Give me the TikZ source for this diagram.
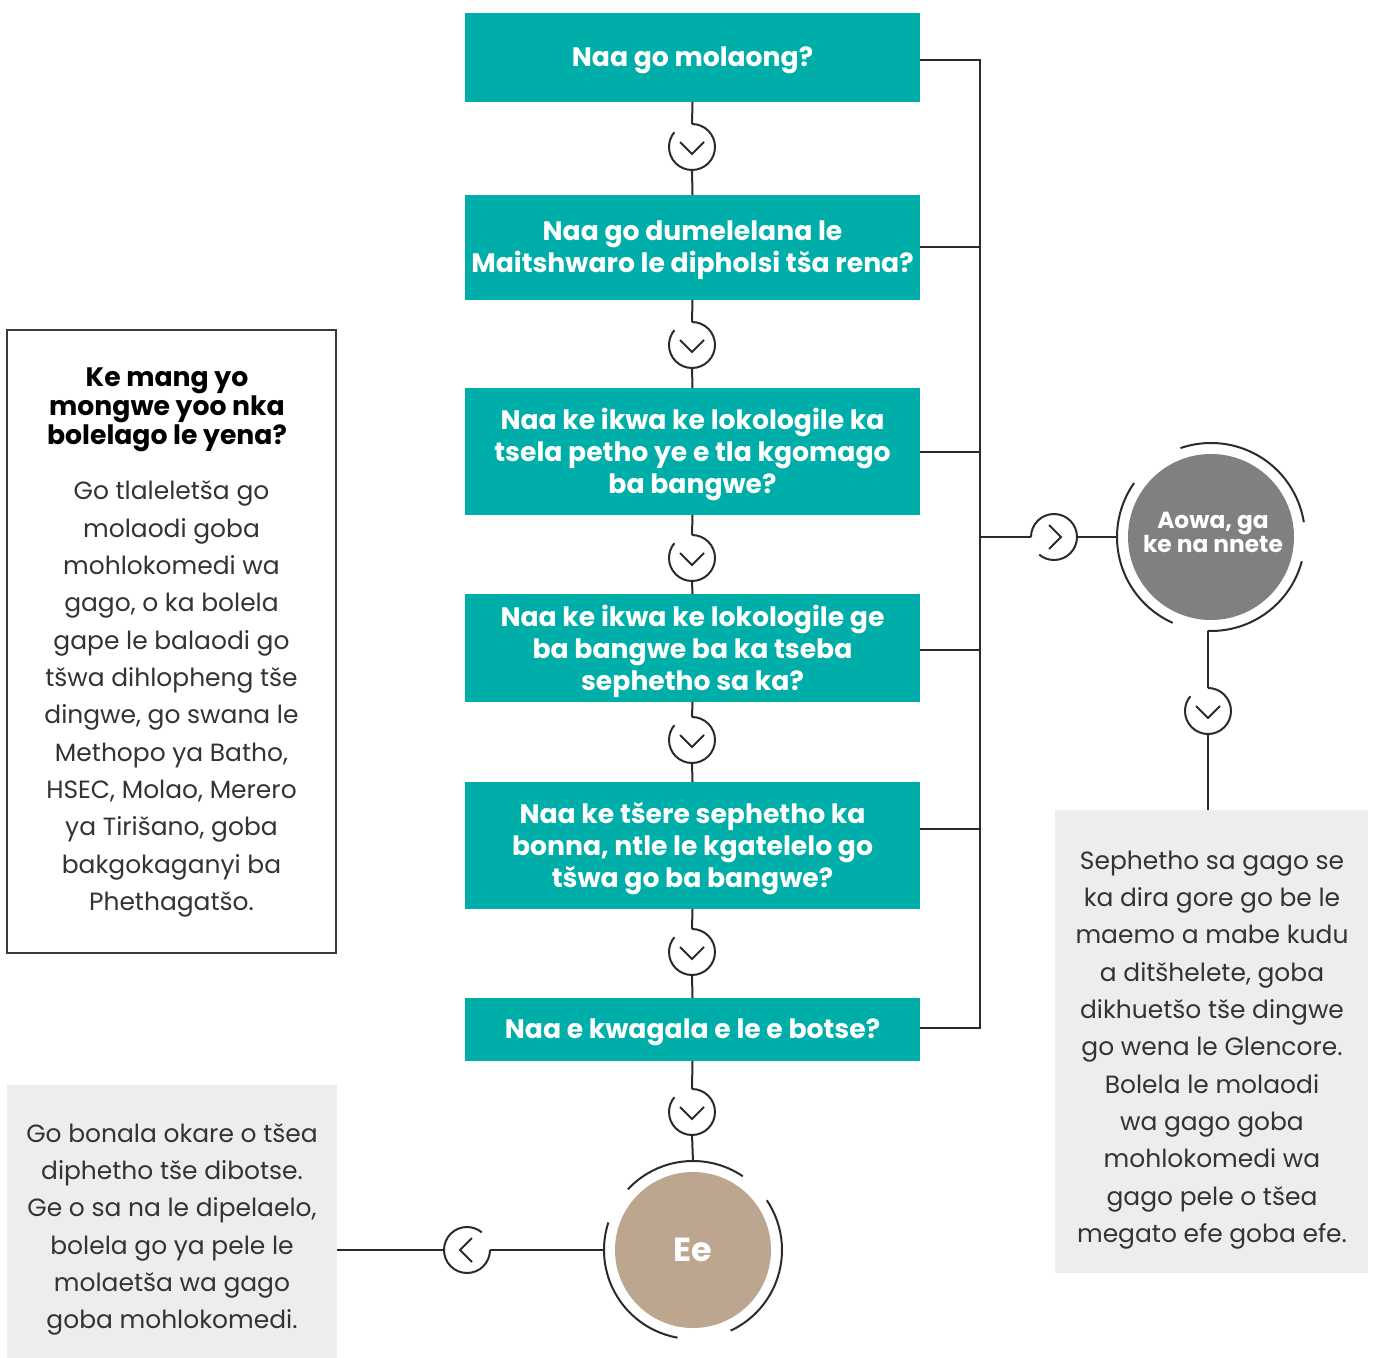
\documentclass[tikz,border=0pt]{standalone}
\usepackage{fontspec}
\setmainfont{Poppins}
\definecolor{tealq}{HTML}{00AEA9}
\definecolor{linec}{HTML}{2B2B2B}
\definecolor{boxgray}{HTML}{EDEDED}
\definecolor{circgray}{HTML}{808080}
\definecolor{circtan}{HTML}{BCA68F}
\definecolor{bodytext}{HTML}{333333}
\definecolor{borderc}{HTML}{3A3A3A}
\newcommand{\chevronmark}[4]{%
  \node[chevnode] (#1) at (#2,#3) {};
  \draw[ln] (#1.#4) arc[start angle=#4, end angle=#4-310, radius=23];
  \begin{scope}[shift={(#1.center)}, rotate=#4-90]
    \draw[ln] (-12,5) -- (0,-7) -- (12,5);
  \end{scope}}
\begin{document}
\begin{tikzpicture}[x=0.75pt,y=0.75pt,
  ln/.style={line width=1.5pt, draw=linec},
  chevnode/.style={circle, minimum size=34.5pt, inner sep=0pt, outer sep=0pt},
  qbox/.style={fill=tealq, minimum width=341.25pt, inner sep=0pt, outer sep=0pt},
  qtext/.style={text=white, align=center, inner sep=0pt, font=\bfseries\fontsize{20}{24}\selectfont},
  bodyt/.style={text=bodytext, align=center, inner sep=0pt, font=\fontsize{18.7}{28}\selectfont},
  graybox/.style={fill=boxgray, inner sep=0pt, outer sep=0pt}]
\useasboundingbox (0,0) rectangle (1375,-1358);

% question boxes
\node[qbox, minimum height=66.75pt] (b1) at (692.5,-57.5) {};
\node[qbox, minimum height=78.75pt] (b2) at (692.5,-247.5) {};
\node[qbox, minimum height=95.25pt] (b3) at (692.5,-451.5) {};
\node[qbox, minimum height=81pt] (b4) at (692.5,-648) {};
\node[qbox, minimum height=95.25pt] (b5) at (692.5,-845.5) {};
\node[qbox, minimum height=47.25pt] (b6) at (692.5,-1029.5) {};
\node[qtext] (t1) at ([yshift=-2.25pt]b1.center) {Naa go molaong?};
\node[qtext] (t2) at ([yshift=-2.25pt]b2.center) {Naa go dumelelana le\\Maitshwaro le dipholsi tša rena?};
\node[qtext] (t3) at ([yshift=-2.25pt]b3.center) {Naa ke ikwa ke lokologile ka\\tsela petho ye e tla kgomago\\ba bangwe?};
\node[qtext] (t4) at ([yshift=-2.25pt]b4.center) {Naa ke ikwa ke lokologile ge\\ba bangwe ba ka tseba\\sephetho sa ka?};
\node[qtext] (t5) at ([yshift=-2.25pt]b5.center) {Naa ke tšere sephetho ka\\bonna, ntle le kgatelelo go\\tšwa go ba bangwe?};
\node[qtext] (t6) at ([yshift=-2.25pt]b6.center) {Naa e kwagala e le e botse?};

% chevrons down the middle
\chevronmark{k1}{692}{-147}{90}
\chevronmark{k2}{692}{-345}{90}
\chevronmark{k3}{692}{-558}{90}
\chevronmark{k4}{692}{-740}{90}
\chevronmark{k5}{692}{-952}{90}
\chevronmark{k6}{692}{-1112}{90}
\draw[ln] (b1.south) -- (k1.90);
\draw[ln] (k1.270) -- (b2.north);
\draw[ln] (b2.south) -- (k2.90);
\draw[ln] (k2.270) -- (b3.north);
\draw[ln] (b3.south) -- (k3.90);
\draw[ln] (k3.270) -- (b4.north);
\draw[ln] (b4.south) -- (k4.90);
\draw[ln] (k4.270) -- (b5.north);
\draw[ln] (b5.south) -- (k5.90);
\draw[ln] (k5.270) -- (b6.north);
\draw[ln] (b6.south) -- (k6.90);

% right bracket
\coordinate (r1) at (980,-60);
\coordinate (r2) at (980,-247);
\coordinate (r3) at (980,-452);
\coordinate (r4) at (980,-650);
\coordinate (r5) at (980,-829);
\coordinate (r6) at (980,-1028);
\coordinate (rm) at (980,-537);
\draw[ln] (b1.east |- r1) -- (r1) -- (r6) -- (b6.east |- r6);
\draw[ln] (b2.east |- r2) -- (r2);
\draw[ln] (b3.east |- r3) -- (r3);
\draw[ln] (b4.east |- r4) -- (r4);
\draw[ln] (b5.east |- r5) -- (r5);
\chevronmark{k7}{1054}{-537}{180}
\draw[ln] (rm) -- (k7.180);

% Aowa circle
\node[circle, fill=circgray, minimum size=124.5pt, inner sep=0pt] (aowa) at (1211,-537) {};
\node[text=white, align=center, inner sep=0pt, font=\bfseries\fontsize{17.5}{18}\selectfont] (aowatext) at (1213,-532) {Aowa, ga\\ke na nnete};
\draw[ln] ([shift={(109:94)}]aowa.center) arc[start angle=109, end angle=9, radius=94];
\draw[ln] ([shift={(-15:94)}]aowa.center) arc[start angle=-15, end angle=-92, radius=94];
\draw[ln] ([shift={(246:94)}]aowa.center) arc[start angle=246, end angle=145, radius=94];
\coordinate (aowaW) at ([shift={(180:94)}]aowa.center);
\coordinate (aowaS) at ([shift={(-92:94)}]aowa.center);
\draw[ln] (k7.0) -- (aowaW);
\chevronmark{k8}{1208}{-711}{90}
\draw[ln] (k8.90) -- (k8.90 |- aowaS);

% right gray box
\node[graybox, minimum width=234.75pt, minimum height=347.25pt] (rbox) at (1211.5,-1041.5) {};
\draw[ln] (k8.270) -- (k8.270 |- rbox.north);
\node[bodyt] (rtext) at (1212,-1050) {Sephetho sa gago se\\ka dira gore go be le\\maemo a mabe kudu\\a ditšhelete, goba\\dikhuetšo tše dingwe\\go wena le Glencore.\\Bolela le molaodi\\wa gago goba\\mohlokomedi wa\\gago pele o tšea\\megato efe goba efe.};

% Ee circle
\node[circle, fill=circtan, minimum size=117pt, inner sep=0pt, text=white, font=\bfseries\fontsize{25}{28}\selectfont] (ee) at (693,-1250) {Ee};
\draw[ln] ([shift={(137:89)}]ee.center) arc[start angle=137, end angle=56, radius=89];
\draw[ln] ([shift={(34:89)}]ee.center) arc[start angle=34, end angle=-65, radius=89];
\draw[ln] ([shift={(260:89)}]ee.center) arc[start angle=260, end angle=162, radius=89];
\coordinate (eeN) at ([shift={(90:89)}]ee.center);
\coordinate (eeW) at ([shift={(180:89)}]ee.center);
\draw[ln] (k6.270) -- (eeN);

% left bottom
\node[graybox, minimum width=247.5pt, minimum height=204.75pt] (lbox2) at (172,-1221.5) {};
\node[bodyt] (ltext) at (172,-1229.5) {Go bonala okare o tšea\\diphetho tše dibotse.\\Ge o sa na le dipelaelo,\\bolela go ya pele le\\molaetša wa gago\\goba mohlokomedi.};
\chevronmark{k9}{467}{-1250}{0}
\draw[ln] (eeW) -- (k9.0);
\draw[ln] (k9.180) -- (k9.180 -| lbox2.east);

% left white box
\node[draw=borderc, line width=1.5pt, fill=white, minimum width=246.75pt, minimum height=467.25pt, inner sep=0pt] (lbox1) at (171.5,-641.5) {};
\node[align=center, inner sep=0pt, font=\bfseries\fontsize{20}{21.75}\selectfont] (ltitle) at (167,-410) {Ke mang yo\\mongwe yoo nka\\bolelago le yena?};
\node[bodyt] (lbody) at (171.5,-699) {Go tlaleletša go\\molaodi goba\\mohlokomedi wa\\gago, o ka bolela\\gape le balaodi go\\tšwa dihlopheng tše\\dingwe, go swana le\\Methopo ya Batho,\\HSEC, Molao, Merero\\ya Tirišano, goba\\bakgokaganyi ba\\Phethagatšo.};
\end{tikzpicture}
\end{document}
